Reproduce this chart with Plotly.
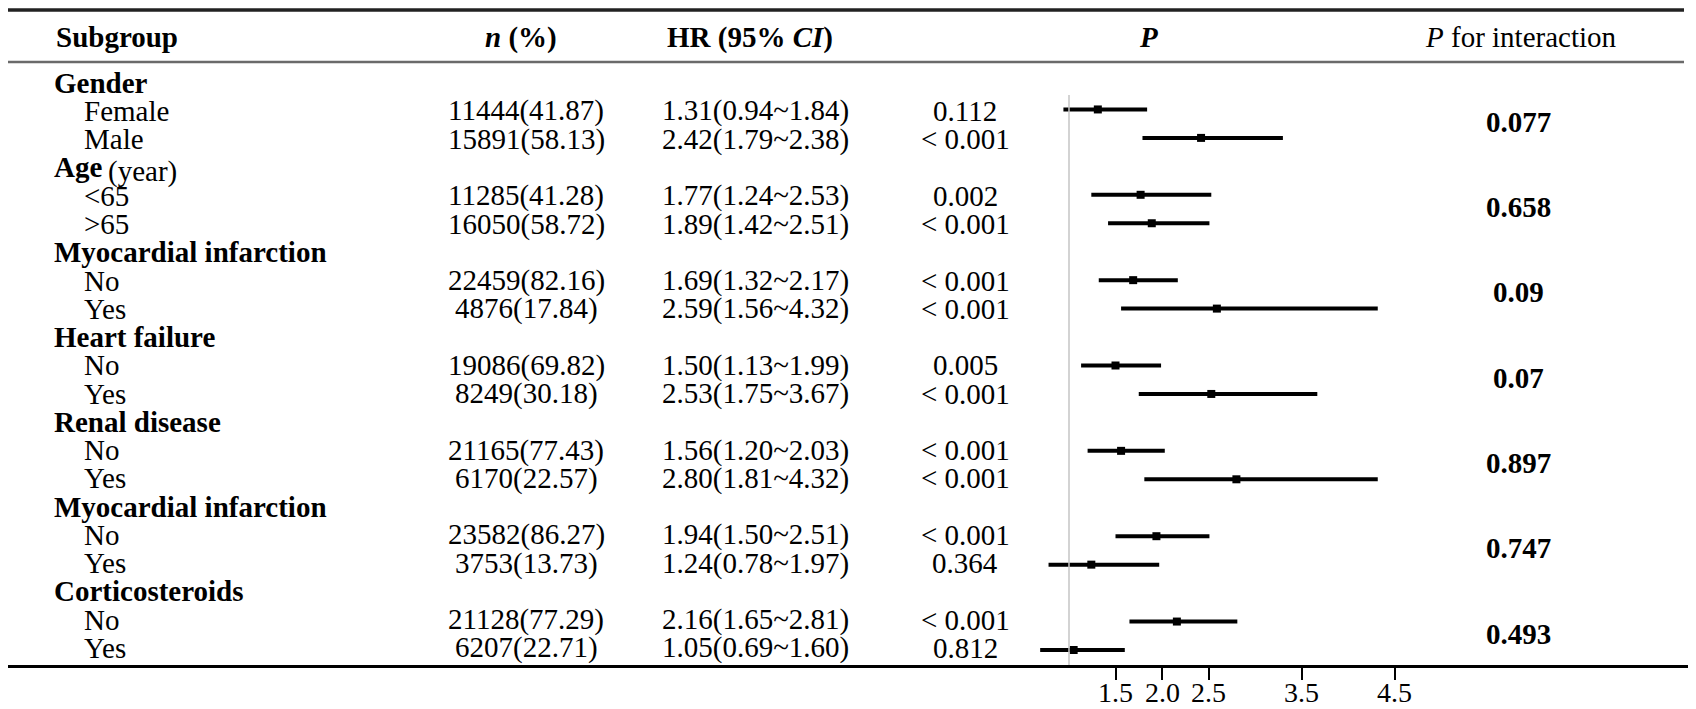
import plotly.graph_objects as go

# ---- datos ----
grupos = ["Gender", "Age", "Myocardial infarction", "Heart failure",
          "Renal disease", "Myocardial infarction", "Corticosteroids"]
notas_grupo = ["", "(year)", "", "", "", "", ""]
subgrupos = ["Female", "Male", "<65", ">65", "No", "Yes", "No", "Yes",
             "No", "Yes", "No", "Yes", "No", "Yes"]
n_pct = ["11444(41.87)", "15891(58.13)", "11285(41.28)", "16050(58.72)",
         "22459(82.16)", "4876(17.84)", "19086(69.82)", "8249(30.18)",
         "21165(77.43)", "6170(22.57)", "23582(86.27)", "3753(13.73)",
         "21128(77.29)", "6207(22.71)"]
hr_txt = ["1.31(0.94~1.84)", "2.42(1.79~2.38)", "1.77(1.24~2.53)", "1.89(1.42~2.51)",
          "1.69(1.32~2.17)", "2.59(1.56~4.32)", "1.50(1.13~1.99)", "2.53(1.75~3.67)",
          "1.56(1.20~2.03)", "2.80(1.81~4.32)", "1.94(1.50~2.51)", "1.24(0.78~1.97)",
          "2.16(1.65~2.81)", "1.05(0.69~1.60)"]
p_txt = ["0.112", "< 0.001", "0.002", "< 0.001", "< 0.001", "< 0.001", "0.005",
         "< 0.001", "< 0.001", "< 0.001", "< 0.001", "0.364", "< 0.001", "0.812"]
hr = [1.31, 2.42, 1.77, 1.89, 1.69, 2.59, 1.50, 2.53, 1.56, 2.80, 1.94, 1.24, 2.16, 1.05]
ic_inf = [0.94, 1.79, 1.24, 1.42, 1.32, 1.56, 1.13, 1.75, 1.20, 1.81, 1.50, 0.78, 1.65, 0.69]
ic_sup = [1.84, 3.30, 2.53, 2.51, 2.17, 4.32, 1.99, 3.67, 2.03, 4.32, 2.51, 1.97, 2.81, 1.60]
p_inter = ["0.077", "0.658", "0.09", "0.07", "0.897", "0.747", "0.493"]
ticks_x = [1.5, 2.0, 2.5, 3.5, 4.5]

# ---- geometria (pixeles de la ventana) ----
VENT_W, VENT_H = 1696, 709
BODY = 8                     # margen por defecto del <body>
W, H = VENT_W - BODY, VENT_H - BODY
EJE_PX = 665                 # linea del eje x
DER_PX = 1690                # borde derecho del area
FILA_PX = 28.45              # alto de fila (marcas)
Y0_PX = 81                   # centro de la primera fila
TXT0_PX, TXT_FILA = 82.7, 28.26   # las filas de texto van algo mas juntas
X1_PX, UNIDAD_PX = 1069, 93  # posicion de HR=1 y pixeles por unidad
FUENTE = "Liberation Serif, Times New Roman, serif"
TAM = 29

MB = VENT_H - EJE_PX
MR = VENT_W - DER_PX
ANCHO = DER_PX - BODY
ALTO = EJE_PX - BODY


def fila(p):
    # pixel vertical -> coordenada de fila
    return (p - Y0_PX) / FILA_PX


def xp(p):
    # pixel horizontal -> fraccion del papel
    return (p - BODY) / ANCHO


def yp(p):
    return (EJE_PX - p) / ALTO


def ajuste(i):
    # desplazamiento (px, hacia arriba) del texto respecto a la fila de la marca
    return (Y0_PX + FILA_PX * i) - (TXT0_PX + TXT_FILA * i)


filas_sub = []
for g in range(len(grupos)):
    filas_sub += [3 * g + 1, 3 * g + 2]

fig = go.Figure()

fig.add_trace(go.Scatter(
    x=hr, y=filas_sub, mode="markers",
    marker=dict(symbol="square", size=8, color="black"),
    error_x=dict(type="data", symmetric=False,
                 array=[s - h for s, h in zip(ic_sup, hr)],
                 arrayminus=[h - i for h, i in zip(hr, ic_inf)],
                 color="black", thickness=4, width=0),
    showlegend=False, hoverinfo="skip"))

anot = []


def texto(x, y, t, align="center", dy=0.0):
    anot.append(dict(x=xp(x), y=y, xref="paper", yref="y", text=t, showarrow=False,
                     xanchor=align, yanchor="middle", yshift=dy,
                     font=dict(family=FUENTE, size=TAM, color="black")))


# encabezados
yh = fila(37)
texto(54, yh, "<b>Subgroup</b>", "left")
texto(521, yh, "<b><i>n</i> (%)</b>", "center")
texto(750, yh, "<b>HR (95% <i>CI</i>)</b>", "center")
texto(1148, yh, "<b><i>P</i></b>", "center")
texto(1521, yh, "<i>P</i> for interaction", "center")

for g, nombre in enumerate(grupos):
    fg = 3 * g
    texto(52, fg, "<b>%s</b>" % nombre, "left", ajuste(fg))
    if notas_grupo[g]:
        texto(106, fg, notas_grupo[g], "left", ajuste(fg) - 4)
    texto(1518, fg + 1.5, "<b>%s</b>" % p_inter[g], "center", 2)

for k, fy in enumerate(filas_sub):
    d = ajuste(fy)
    texto(82, fy, subgrupos[k].replace("<", "&lt;").replace(">", "&gt;"), "left", d)
    texto(526, fy, n_pct[k], "center", d)
    texto(755, fy, hr_txt[k], "center", d)
    texto(965, fy, p_txt[k], "center", d)

# etiquetas del eje x
for t in ticks_x:
    anot.append(dict(x=t, y=yp(692), xref="x", yref="paper", text="%.1f" % t,
                     showarrow=False, xanchor="center", yanchor="middle",
                     font=dict(family=FUENTE, size=28, color="black")))

formas = [
    dict(type="line", xref="paper", yref="y", x0=0, x1=xp(1684),
         y0=fila(10), y1=fila(10), line=dict(color="#222222", width=3.5)),
    dict(type="line", xref="paper", yref="y", x0=0, x1=xp(1684),
         y0=fila(62), y1=fila(62), line=dict(color="#6a6a6a", width=2.5)),
    dict(type="line", xref="x", yref="y", x0=1, x1=1,
         y0=fila(95), y1=fila(667), line=dict(color="#c4c4c4", width=1.5)),
]

fig.update_layout(
    width=W, height=H,
    margin=dict(l=0, r=MR, t=0, b=MB),
    paper_bgcolor="white", plot_bgcolor="white",
    template="none",
    annotations=anot, shapes=formas,
    xaxis=dict(range=[1 - (X1_PX - BODY) / UNIDAD_PX, 1 + (DER_PX - X1_PX) / UNIDAD_PX],
               tickvals=ticks_x, showticklabels=False,
               ticks="outside", ticklen=12, tickwidth=2, tickcolor="black",
               showline=True, linecolor="black", linewidth=3,
               showgrid=False, zeroline=False, automargin=False),
    yaxis=dict(range=[fila(EJE_PX), fila(BODY)], visible=False,
               showgrid=False, zeroline=False, automargin=False),
)

fig.write_html("out.html")
